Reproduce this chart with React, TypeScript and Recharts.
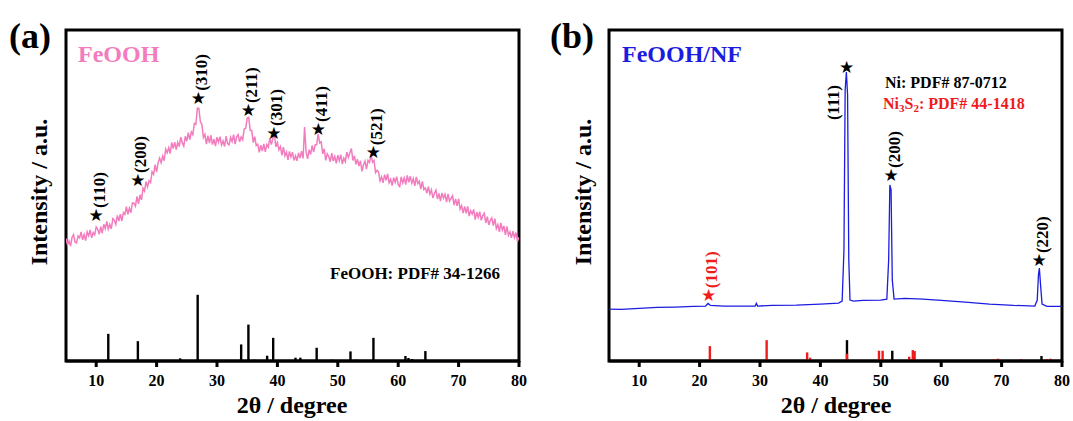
import { ComposedChart, Line, Scatter, ReferenceLine, ReferenceArea, XAxis, YAxis } from "recharts";

// ---- panel (a): FeOOH powder ----
// scan grid for the FeOOH pattern (2θ, degrees)
const FEOOH_START = 5;
const FEOOH_STEP = 0.25;
const feoohIntensity = [
  37.0, 35.1, 36.3, 34.7, 37.4, 38.2, 35.9, 35.7, 37.8, 37.2, 39.0, 36.6,
  38.2, 36.4, 39.0, 37.8, 39.6, 37.2, 38.8, 38.1, 40.5, 39.8, 38.3, 40.6,
  38.6, 41.3, 40.0, 42.2, 39.9, 41.3, 39.9, 43.0, 42.5, 41.3, 44.0, 42.3,
  44.4, 42.3, 44.8, 44.3, 46.6, 44.3, 46.2, 44.8, 47.8, 47.7, 46.8, 49.7,
  47.5, 50.2, 48.7, 52.2, 51.3, 54.2, 52.6, 54.5, 53.9, 57.2, 56.4, 59.3,
  57.1, 59.9, 61.3, 59.9, 61.9, 60.5, 64.0, 62.9, 64.4, 62.7, 66.0, 64.2,
  66.1, 63.9, 66.1, 64.8, 67.6, 65.9, 64.9, 67.9, 66.4, 69.0, 66.9, 69.2,
  68.4, 71.8, 71.5, 76.4, 76.3, 72.2, 71.5, 67.5, 68.5, 65.5, 68.1, 65.8,
  68.2, 65.4, 67.0, 64.9, 67.6, 66.1, 67.8, 65.3, 66.5, 64.8, 67.9, 65.7,
  65.3, 67.6, 66.3, 68.4, 65.5, 67.7, 68.4, 66.2, 67.7, 66.8, 70.1, 70.3,
  73.4, 73.6, 69.6, 69.6, 66.0, 67.8, 65.1, 65.5, 63.0, 65.2, 63.4, 65.6,
  63.2, 65.4, 64.6, 67.3, 65.4, 67.3, 68.4, 64.7, 66.0, 63.8, 64.8, 62.1,
  64.6, 62.0, 63.1, 60.8, 63.3, 61.6, 63.1, 60.6, 62.0, 60.5, 62.9, 61.3,
  63.4, 61.2, 70.7, 63.2, 61.1, 63.8, 62.4, 65.1, 63.1, 65.3, 65.3, 68.6,
  65.9, 66.2, 62.6, 64.1, 60.6, 62.6, 61.8, 60.2, 62.8, 60.4, 61.8, 59.7,
  62.2, 60.5, 62.3, 59.5, 61.3, 60.2, 63.1, 61.5, 62.9, 64.2, 60.6, 62.0,
  59.4, 61.0, 58.9, 60.5, 57.3, 59.3, 60.4, 58.0, 60.6, 60.0, 62.3, 60.1,
  60.6, 56.9, 57.6, 57.1, 54.4, 55.6, 53.8, 56.3, 54.6, 56.5, 53.8, 54.9,
  53.0, 55.4, 54.0, 55.7, 53.3, 52.7, 55.6, 53.8, 55.3, 53.3, 56.1, 54.0,
  55.8, 53.7, 55.1, 52.9, 55.6, 53.6, 54.3, 51.9, 54.3, 51.8, 52.3, 50.7,
  52.7, 50.4, 51.7, 49.2, 50.7, 51.6, 48.9, 50.6, 48.3, 50.8, 49.2, 50.4,
  48.0, 50.5, 48.3, 49.1, 49.9, 47.1, 49.0, 46.9, 49.0, 45.9, 46.9, 44.7,
  46.7, 44.6, 46.7, 43.8, 45.4, 44.4, 45.8, 42.7, 45.0, 43.4, 45.1, 42.5,
  43.9, 44.6, 41.7, 43.6, 41.1, 42.5, 43.2, 40.9, 43.0, 40.0, 41.2, 39.0,
  41.7, 39.5, 40.8, 38.1, 40.7, 38.0, 39.0, 37.2, 39.2, 37.3, 38.8, 36.2,
  37.4,
];

// PDF# 34-1266 reference lines
const feoohRefAngles = [12.0, 16.9, 23.9, 26.8, 34.0, 35.2, 36.2, 38.3, 39.3, 43.0, 43.8, 46.5, 49.0, 52.1, 53.0, 55.9, 61.2, 61.7, 62.3, 64.5];
const feoohRefHeights = [8.2, 6.0, 0.8, 20.0, 5.0, 11.0, 0.4, 1.6, 7.0, 1.0, 1.0, 4.0, 0.4, 2.9, 0.4, 7.0, 1.5, 0.9, 0.6, 3.0];

const feoohPeakAngles = [10.0, 16.9, 26.9, 35.2, 39.4, 46.8, 55.9];
const feoohPeakLevels = [44.1, 54.7, 79.5, 75.8, 68.9, 70.1, 63.1];
const feoohPeakLabels = ["(110)", "(200)", "(310)", "(211)", "(301)", "(411)", "(521)"];

// ---- panel (b): FeOOH on nickel foam ----
const nfAngles = [
  5, 7, 10, 13, 16, 19, 21, 21.4, 21.8, 24, 27, 29.2, 29.4, 29.6, 32, 36, 40,
  43.0, 43.6, 43.9, 44.1, 44.3, 44.5, 44.7, 44.9, 45.5, 47, 50,
  51.0, 51.3, 51.5, 51.7, 51.9, 52.2, 54, 57, 60, 64, 68, 72,
  75.5, 75.9, 76.1, 76.25, 76.45, 76.7, 77.5, 80,
];
const nfIntensity = [
  15.7, 15.6, 15.9, 16.2, 16.3, 16.5, 16.6, 17.4, 16.8, 16.6, 16.6, 16.6, 17.4, 16.6, 16.8, 16.9, 17.2,
  17.5, 18.1, 33.5, 81.9, 87.3, 80.4, 30.5, 18.4, 18.1, 18.3, 18.4,
  18.7, 30.5, 53.2, 51.7, 24.5, 18.7, 18.9, 18.7, 18.3, 17.8, 17.2, 16.8,
  16.6, 18.4, 26.0, 28.1, 23.0, 17.2, 16.5, 16.5,
];

// Ni PDF# 87-0712 and Ni3S2 PDF# 44-1418
const niRefAngles = [44.4, 51.9, 76.6];
const niRefHeights = [6.3, 3.1, 1.5];
const ni3s2RefAngles = [21.7, 31.1, 37.8, 38.3, 44.4, 49.7, 50.3, 54.7, 55.3, 55.6, 68.6, 69.4, 73.2, 77.5, 78.1];
const ni3s2RefHeights = [4.5, 6.3, 2.6, 1.0, 2.2, 3.1, 3.1, 1.3, 3.3, 3.0, 0.5, 0.7, 0.6, 0.6, 0.7];

const nfPeakAngles = [21.5, 44.35, 51.7, 76.2];
const nfPeakLevels = [19.9, 88.8, 56.2, 30.5];
const nfPeakLabels = ["(101)", "(111)", "(200)", "(220)"];
const nfPeakPhases = ["Ni3S2", "Ni", "Ni", "Ni"];

const X_TICKS = [10, 20, 30, 40, 50, 60, 70, 80];

const PINK = "#f27cbd";
const BLUE = "#1c1ce0";
const RED = "#ee1c1c";
const SERIF = "'Liberation Serif', 'Times New Roman', serif";

const feoohCurve = feoohIntensity.map((y, i) => ({ x: FEOOH_START + i * FEOOH_STEP, y }));
const nfCurve = nfAngles.map((x, i) => ({ x, y: nfIntensity[i] }));
const feoohPeaks = feoohPeakAngles.map((x, i) => ({ x, y: feoohPeakLevels[i], label: feoohPeakLabels[i], color: "#000" }));
const nfPeaks = nfPeakAngles.map((x, i) => ({
  x,
  y: nfPeakLevels[i],
  label: nfPeakLabels[i],
  color: nfPeakPhases[i] === "Ni3S2" ? RED : "#000",
}));

// (111) sits to the left of its line, the rest above the star
const LEFT_LABELS = new Set(["(111)"]);

function PeakMark(props: any) {
  const { cx, cy, payload } = props;
  if (cx == null || cy == null) return null;
  const left = LEFT_LABELS.has(payload.label);
  const lx = left ? cx - 13 : cx + 3;
  const ly = left ? cy + 53 : cy - 7;
  return (
    <g>
      <text x={cx} y={cy} textAnchor="middle" dominantBaseline="central" fontSize={17} fill={payload.color} fontFamily="'DejaVu Sans'">
        ★
      </text>
      <text
        x={lx}
        y={ly}
        transform={`rotate(-90 ${lx} ${ly})`}
        textAnchor="start"
        dominantBaseline="central"
        fontSize={17}
        fontWeight={700}
        fontFamily={SERIF}
        fill={payload.color}
      >
        {payload.label}
      </text>
    </g>
  );
}

function Sticks({ angles, heights, color }: { angles: number[]; heights: number[]; color: string }) {
  return (
    <>
      {angles.map((a, i) => (
        <ReferenceLine
          key={`${color}-${a}-${i}`}
          segment={[{ x: a, y: 0 }, { x: a, y: heights[i] }]}
          stroke={color}
          strokeWidth={2.4}
          ifOverflow="visible"
        />
      ))}
    </>
  );
}

const FRAME = { stroke: "#000", strokeWidth: 3 };

function Panel({ children }: { children: React.ReactNode }) {
  return (
    <ComposedChart width={540} height={421} margin={{ top: 30, right: 21, bottom: 30, left: 66 }}>
      <XAxis
        type="number"
        dataKey="x"
        domain={[5, 80]}
        ticks={X_TICKS}
        allowDataOverflow
        height={30}
        axisLine={FRAME}
        tickLine={FRAME}
        tickSize={6}
        tickMargin={8}
        tick={{ fill: "#000", fontSize: 16, fontWeight: 700, fontFamily: SERIF }}
      />
      <YAxis type="number" domain={[0, 100]} hide allowDataOverflow />
      {children}
      {/* plot frame */}
      <ReferenceArea x1={5} x2={80} y1={0} y2={100} fill="none" stroke="#000" strokeWidth={3} fillOpacity={0} ifOverflow="visible" />
    </ComposedChart>
  );
}

const txt = (extra: React.CSSProperties): React.CSSProperties => ({
  position: "absolute",
  fontFamily: SERIF,
  fontWeight: 700,
  lineHeight: 1,
  whiteSpace: "nowrap",
  color: "#000",
  ...extra,
});

function AxisTitles({ offset }: { offset: number }) {
  return (
    <>
      <div style={txt({ left: offset + 39, top: 192, fontSize: 24, transform: "translate(-50%, -50%) rotate(-90deg)" })}>
        Intensity / a.u.
      </div>
      <div style={txt({ left: offset + 292 - 100, width: 200, textAlign: "center", top: 393, fontSize: 24 })}>2θ / degree</div>
    </>
  );
}

export default function App() {
  return (
    <div style={{ position: "absolute", left: 0, top: 0, width: 1073, height: 421, background: "#fff", overflow: "hidden" }}>
      <div style={{ position: "absolute", left: 0, top: 0 }}>
        <Panel>
          <Sticks angles={feoohRefAngles} heights={feoohRefHeights} color="#000" />
          <Line data={feoohCurve} dataKey="y" type="linear" stroke={PINK} strokeWidth={1.5} dot={false} isAnimationActive={false} />
          <Scatter data={feoohPeaks} dataKey="y" shape={PeakMark} isAnimationActive={false} />
        </Panel>
      </div>
      <div style={{ position: "absolute", left: 543, top: 0 }}>
        <Panel>
          <Sticks angles={niRefAngles} heights={niRefHeights} color="#000" />
          <Sticks angles={ni3s2RefAngles} heights={ni3s2RefHeights} color={RED} />
          <Line data={nfCurve} dataKey="y" type="linear" stroke={BLUE} strokeWidth={1.3} dot={false} isAnimationActive={false} />
          <Scatter data={nfPeaks} dataKey="y" shape={PeakMark} isAnimationActive={false} />
        </Panel>
      </div>

      <div style={txt({ left: 9, top: 18, fontSize: 36 })}>(a)</div>
      <div style={txt({ left: 550, top: 18, fontSize: 36 })}>(b)</div>

      <div style={txt({ left: 78, top: 42, fontSize: 24, color: PINK })}>FeOOH</div>
      <div style={txt({ left: 330, top: 265, fontSize: 17 })}>FeOOH: PDF# 34-1266</div>

      <div style={txt({ left: 622, top: 42, fontSize: 24, color: BLUE })}>FeOOH/NF</div>
      <div style={txt({ left: 885, top: 75, fontSize: 16 })}>Ni: PDF# 87-0712</div>
      <div style={txt({ left: 883, top: 96, fontSize: 16, color: RED })}>
        Ni<span style={{ fontSize: 11, verticalAlign: "-3px" }}>3</span>S<span style={{ fontSize: 11, verticalAlign: "-3px" }}>2</span>: PDF# 44-1418
      </div>

      <AxisTitles offset={0} />
      <AxisTitles offset={544} />
    </div>
  );
}
